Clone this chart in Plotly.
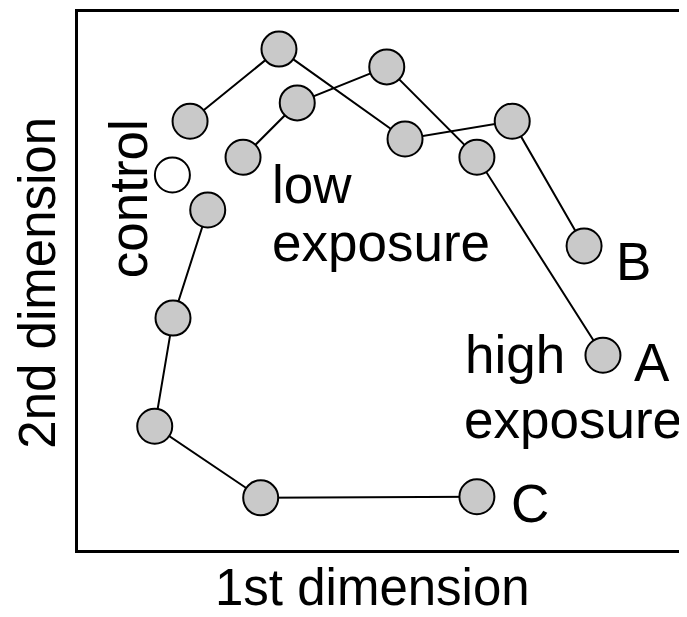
import plotly.graph_objects as go

# Values (arbitrary units, 0-100 on both dimensions)
dim1_A = [27.1, 36.0, 50.7, 65.5, 86.2]
dim2_A = [73.0, 83.1, 89.8, 73.0, 36.2]

dim1_B = [18.4, 33.0, 53.7, 71.3, 83.1]
dim2_B = [79.7, 93.1, 76.4, 79.7, 56.5]

dim1_C = [21.3, 15.6, 12.6, 30.0, 65.5]
dim2_C = [63.2, 43.1, 23.0, 9.7, 9.9]

dim1_control = [15.5]
dim2_control = [69.7]

series_names = ["A", "B", "C"]

FONT = "Liberation Sans, Arial, sans-serif"
FS = 53

fig = go.Figure()

marker_gray = dict(size=35, color="#c9c9c9", line=dict(color="black", width=2))
for name, xs, ys in [("A", dim1_A, dim2_A), ("B", dim1_B, dim2_B), ("C", dim1_C, dim2_C)]:
    fig.add_trace(go.Scatter(x=xs, y=ys, mode="lines+markers", name=name,
                             line=dict(color="black", width=2),
                             marker=marker_gray, showlegend=False,
                             cliponaxis=False))

fig.add_trace(go.Scatter(x=dim1_control, y=dim2_control, mode="markers", name="control",
                         marker=dict(size=35, color="white", line=dict(color="black", width=2)),
                         showlegend=False, cliponaxis=False))

font = dict(family=FONT, size=FS, color="black")

annotations = []
# end-point labels attached to the last point of each series
shifts = {"A": (29, -7), "B": (30, -15), "C": (32, -7)}
for name, xs, ys in [("A", dim1_A, dim2_A), ("B", dim1_B, dim2_B), ("C", dim1_C, dim2_C)]:
    dx, dy = shifts[name]
    annotations.append(dict(x=xs[-1], y=ys[-1], xref="x", yref="y", text=name,
                            showarrow=False, xanchor="left", yanchor="middle",
                            xshift=dx, yshift=dy, font=font))

annotations += [
    dict(x=31.5, y=68.0, xref="x", yref="y", text="low", showarrow=False,
         xanchor="left", yanchor="middle", font=font),
    dict(x=31.5, y=57.2, xref="x", yref="y", text="exposure", showarrow=False,
         xanchor="left", yanchor="middle", font=font),
    dict(x=63.2, y=36.4, xref="x", yref="y", text="high", showarrow=False,
         xanchor="left", yanchor="middle", font=font),
    dict(x=63.1, y=24.3, xref="x", yref="y", text="exposure", showarrow=False,
         xanchor="left", yanchor="middle", font=font),
    dict(x=8.3, y=65.3, xref="x", yref="y", text="control", showarrow=False,
         textangle=-90, xanchor="center", yanchor="middle", font=font),
    # axis titles
    dict(x=0.4836, y=-0.0688, xref="paper", yref="paper", text="1st dimension",
         showarrow=False, xanchor="center", yanchor="middle",
         font=dict(family=FONT, size=51, color="black")),
    dict(x=-0.0665, y=0.496, xref="paper", yref="paper", text="2nd dimension",
         showarrow=False, xanchor="center", yanchor="middle", textangle=-90,
         font=dict(family=FONT, size=51, color="black")),
]

# The page body has an 8px margin, so the figure is 8px smaller and margins reduced.
fig.update_layout(
    width=679, height=609,
    margin=dict(l=70, r=0, t=4, b=67),
    paper_bgcolor="white", plot_bgcolor="white",
    annotations=annotations,
    xaxis=dict(range=[0, 100], showgrid=False, zeroline=False, showticklabels=False,
               ticks="", showline=True, linecolor="black", linewidth=2.5, mirror=True),
    yaxis=dict(range=[0, 100], showgrid=False, zeroline=False, showticklabels=False,
               ticks="", showline=True, linecolor="black", linewidth=2.5, mirror=False),
)

fig.write_html("out.html")
